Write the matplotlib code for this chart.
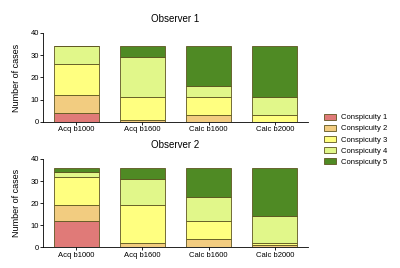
import matplotlib
matplotlib.use("Agg")
import matplotlib.pyplot as plt
import numpy as np

plt.rcParams["font.family"] = ["Liberation Sans", "DejaVu Sans"]

categories = ["Acq b1000", "Acq b1600", "Calc b1600", "Calc b2000"]
series_names = ["Conspicuity 1", "Conspicuity 2", "Conspicuity 3", "Conspicuity 4", "Conspicuity 5"]
colors = ["#e07a78", "#f2cc80", "#ffff80", "#e1f78a", "#4f8a24"]

# Observer 1 values per conspicuity level (per category)
obs1_c1 = [4, 0, 0, 0]
obs1_c2 = [8, 1, 3, 0]
obs1_c3 = [14, 10, 8, 3]
obs1_c4 = [8, 18, 5, 8]
obs1_c5 = [0, 5, 18, 23]

# Observer 2
obs2_c1 = [12, 0, 0, 0]
obs2_c2 = [7, 2, 4, 1]
obs2_c3 = [13, 17, 8, 1]
obs2_c4 = [2, 12, 11, 12]
obs2_c5 = [2, 5, 13, 22]

yticks = [0, 10, 20, 30, 40]

fig = plt.figure(figsize=(4.0, 2.68), dpi=100)
ax1 = fig.add_axes([0.1075, 0.545, 0.6625, 0.332])
ax2 = fig.add_axes([0.1075, 0.077, 0.6625, 0.33])

def draw(ax, data, title):
    x = np.arange(len(categories))
    bottom = np.zeros(len(categories))
    handles = []
    for vals, col, name in zip(data, colors, series_names):
        vals = np.array(vals, dtype=float)
        h = ax.bar(x, vals, bottom=bottom, width=0.68, color=col,
                   edgecolor="#5e5520", linewidth=0.6, label=name)
        handles.append(h)
        bottom += vals
    ax.set_xlim(-0.5, len(categories) - 0.5)
    ax.set_ylim(0, 40)
    ax.set_yticks(yticks)
    ax.set_xticks(x)
    ax.set_xticklabels(categories, fontsize=5.5)
    ax.tick_params(axis="y", labelsize=5.5, length=2, width=0.6, pad=1)
    ax.tick_params(axis="x", length=2, width=0.6, pad=1)
    for s in ["top", "right"]:
        ax.spines[s].set_visible(False)
    for s in ["left", "bottom"]:
        ax.spines[s].set_linewidth(0.6)
    ax.set_ylabel("Number of cases", fontsize=6.5, labelpad=7)
    ax.set_title(title, fontsize=7, pad=8)
    return handles

draw(ax1, [obs1_c1, obs1_c2, obs1_c3, obs1_c4, obs1_c5], "Observer 1")
handles = draw(ax2, [obs2_c1, obs2_c2, obs2_c3, obs2_c4, obs2_c5], "Observer 2")

fig.legend(handles, series_names, loc="upper left", bbox_to_anchor=(0.81, 0.575),
           fontsize=5.5, frameon=False, handlelength=1.6, handleheight=0.8,
           labelspacing=0.45, handletextpad=0.6, borderaxespad=0, borderpad=0)

fig.savefig("out.png", dpi=100)
